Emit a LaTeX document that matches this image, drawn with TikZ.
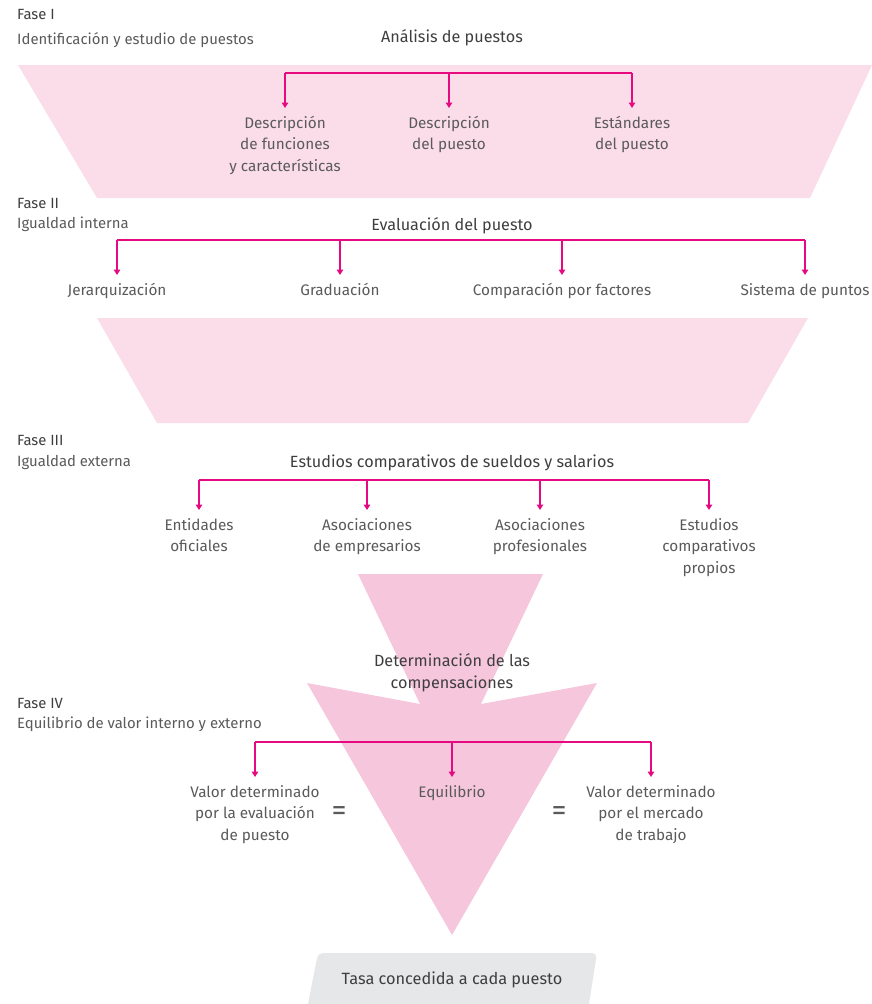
\documentclass[tikz,border=0pt]{standalone}
\usepackage{fontspec}
\setmainfont{Fira Sans}
\usetikzlibrary{arrows.meta}

\definecolor{ink}{HTML}{5A5A5A}
\definecolor{headink}{HTML}{3E3E3E}
\definecolor{linkpink}{HTML}{E6097F}
\definecolor{panel}{HTML}{FBDDE9}
\definecolor{funnel}{HTML}{F6C7DC}
\definecolor{tagbox}{HTML}{E6E7E9}

\begin{document}
\begin{tikzpicture}[x=1pt,y=-1pt,
  phase/.style={inner sep=0pt, anchor=west, text=headink, font=\fontsize{14.8}{16}\selectfont},
  phasesub/.style={inner sep=0pt, anchor=west, text=ink, font=\fontsize{14.9}{16}\selectfont},
  head/.style={inner sep=0pt, text=headink, font=\fontsize{16.2}{22}\selectfont, align=center},
  item/.style={inner sep=0pt, anchor=north, text=ink, font=\fontsize{15.3}{21.5}\selectfont, align=center},
  eqsign/.style={inner sep=0pt, text=ink, font=\fontsize{30}{30}\selectfont},
  bar/.style={draw=linkpink, line width=1.8pt},
  drop/.style={draw=linkpink, line width=1.6pt, -{Triangle[width=6.5pt,length=5.5pt]}, shorten >=8pt},
  tagtext/.style={inner sep=0pt, text=headink, font=\fontsize{16.3}{18}\selectfont}
]
\useasboundingbox (0,0) rectangle (872,1004);

% background panels
\fill[panel] (18,65) -- (872,65) -- (810,198) -- (97,198) -- cycle;
\fill[panel] (97,318) -- (808,318) -- (748,423) -- (157,423) -- cycle;
\fill[funnel] (358,574) -- (543,574) -- (481,704) -- (597,683) -- (452,935)
  -- (307,683) -- (420,704) -- cycle;
\fill[tagbox] (308,1004) [rounded corners=5pt] -- (318,953) -- (597,953)
  [sharp corners] -- (589,1004) -- cycle;

% ---------- Fase I ----------
\node[phase] (f1) at (17,14) {Fase I};
\node[phasesub] (f1s) at (17,40) {Identificación y estudio de puestos};
\node[head] (h1) at (452,38) {Análisis de puestos};
\coordinate (b1a) at (285,73);
\coordinate (b1b) at (449,73);
\coordinate (b1c) at (632,73);
\node[item] (i1a) at (285,116) {Descripción\\de funciones\\y características};
\node[item] (i1b) at (449,116) {Descripción\\del puesto};
\node[item] (i1c) at (632,116) {Estándares\\del puesto};
\draw[bar] (b1a) -- (b1c);
\foreach \s/\t in {b1a/i1a,b1b/i1b,b1c/i1c} \draw[drop] (\s) -- (\t.north);

% ---------- Fase II ----------
\node[phase] (f2) at (17,203) {Fase II};
\node[phasesub] (f2s) at (17,224) {Igualdad interna};
\node[head] (h2) at (452,226) {Evaluación del puesto};
\coordinate (b2a) at (117,240);
\coordinate (b2b) at (340,240);
\coordinate (b2c) at (562,240);
\coordinate (b2d) at (805,240);
\node[item] (i2a) at (117,283) {Jerarquización};
\node[item] (i2b) at (340,283) {Graduación};
\node[item] (i2c) at (562,283) {Comparación por factores};
\node[item] (i2d) at (805,283) {Sistema de puntos};
\draw[bar] (b2a) -- (b2d);
\foreach \s/\t in {b2a/i2a,b2b/i2b,b2c/i2c,b2d/i2d} \draw[drop] (\s) -- (\t.north);

% ---------- Fase III ----------
\node[phase] (f3) at (17,440) {Fase III};
\node[phasesub] (f3s) at (17,462) {Igualdad externa};
\node[head] (h3) at (452,463) {Estudios comparativos de sueldos y salarios};
\coordinate (b3a) at (199,480);
\coordinate (b3b) at (367,480);
\coordinate (b3c) at (540,480);
\coordinate (b3d) at (709,480);
\node[item] (i3a) at (199,518) {Entidades\\oficiales};
\node[item] (i3b) at (367,518) {Asociaciones\\de empresarios};
\node[item] (i3c) at (540,518) {Asociaciones\\profesionales};
\node[item] (i3d) at (709,518) {Estudios\\comparativos\\propios};
\draw[bar] (b3a) -- (b3d);
\foreach \s/\t in {b3a/i3a,b3b/i3b,b3c/i3c,b3d/i3d} \draw[drop] (\s) -- (\t.north);

% ---------- Fase IV ----------
\node[head] (h4) at (452,673) {Determinación de las\\compensaciones};
\node[phase] (f4) at (17,703) {Fase IV};
\node[phasesub] (f4s) at (17,724) {Equilibrio de valor interno y externo};
\coordinate (b4a) at (255,742);
\coordinate (b4b) at (452,742);
\coordinate (b4c) at (651,742);
\node[item] (i4a) at (255,785) {Valor determinado\\por la evaluación\\de puesto};
\node[item] (i4b) at (452,785) {Equilibrio};
\node[item] (i4c) at (651,785) {Valor determinado\\por el mercado\\de trabajo};
\draw[bar] (b4a) -- (b4c);
\foreach \s/\t in {b4a/i4a,b4b/i4b,b4c/i4c} \draw[drop] (\s) -- (\t.north);
\node[eqsign] (eq1) at (339,813) {=};
\node[eqsign] (eq2) at (559,813) {=};

% result
\node[tagtext] (rate) at (452,980) {Tasa concedida a cada puesto};
\end{tikzpicture}
\end{document}
